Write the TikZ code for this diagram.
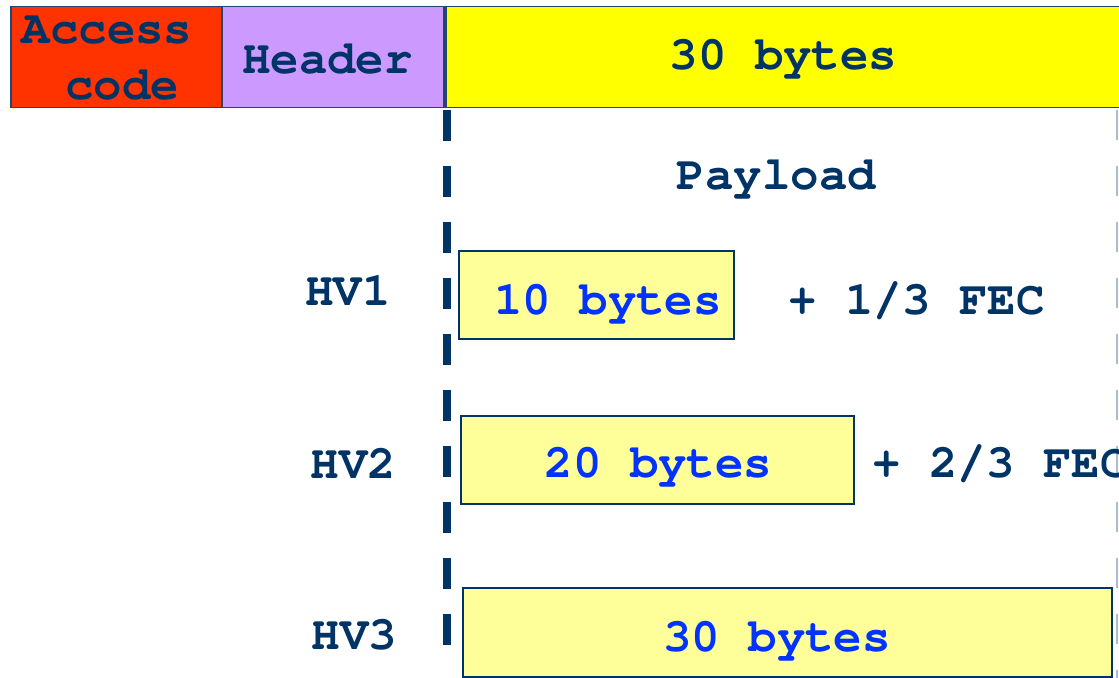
\documentclass[tikz,border=0pt]{standalone}
\usepackage[T1]{fontenc}
\definecolor{navy}{HTML}{003366}
\definecolor{edge}{HTML}{24466E}
\definecolor{accred}{HTML}{FF3300}
\definecolor{hdrlil}{HTML}{CC99FF}
\definecolor{ylw}{HTML}{FFFF00}
\definecolor{lylw}{HTML}{FFFF99}
\definecolor{blu}{HTML}{0033FF}
\definecolor{faint}{HTML}{A9BCD3}
\tikzset{
  fld/.style={draw=edge, line width=0.75pt, inner sep=0pt, anchor=north west},
  pbox/.style={draw=navy, fill=lylw, line width=1pt, inner sep=0pt, anchor=north west},
  txt/.style={font=\fontfamily{pcr}\bfseries\fontsize{23.7}{28}\selectfont, text=navy, inner sep=0pt, anchor=base},
  btxt/.style={txt, text=blu},
  sep/.style={draw=navy, line width=4pt, dash pattern=on 15.5pt off 12.5pt},
  rsep/.style={draw=faint, line width=1pt, dash pattern=on 15pt off 13pt},
}
\begin{document}
\begin{tikzpicture}[x=0.5pt,y=-0.5pt]
\useasboundingbox (0,0) rectangle (1119,678);
\clip (0,0) rectangle (1119,678);
% top fields
\node[fld, fill=accred, minimum width=211*0.5pt, minimum height=101*0.5pt] (acc) at (10,6) {};
\node[fld, fill=hdrlil, minimum width=222*0.5pt, minimum height=101*0.5pt] (hdr) at (221,6) {};
\node[fld, fill=ylw, minimum width=700*0.5pt, minimum height=101*0.5pt] (pay) at (445,6) {};
\node[txt] (acct1) at (107,44) {Access};
\node[txt] (acct2) at (122,100) {code};
\node[txt] (hdrt) at (327.5,74) {Header};
\node[txt] (payt) at (783.5,70) {30 bytes};
% separators
\coordinate (s1) at (447,110);
\coordinate (s2) at (447,660);
\draw[sep] (s1) -- (s2);
\coordinate (r1) at (1117,110);
\coordinate (r2) at (1117,678);
\draw[rsep] (r1) -- (r2);
% payload label
\node[txt] (plabel) at (776.5,190) {Payload};
% HV rows
\node[txt] (hv1) at (348,306) {HV1};
\node[txt] (hv2) at (353.5,479) {HV2};
\node[txt] (hv3) at (354.5,649) {HV3};
\node[pbox, minimum width=275*0.5pt, minimum height=88*0.5pt] (b1) at (458,250) {};
\node[pbox, minimum width=393*0.5pt, minimum height=88*0.5pt] (b2) at (460,415) {};
\node[pbox, minimum width=649*0.5pt, minimum height=89*0.5pt] (b3) at (462,587) {};
\node[btxt] (b1t) at (608,315) {10 bytes};
\node[btxt] (b2t) at (658.5,478) {20 bytes};
\node[btxt] (b3t) at (777,651) {30 bytes};
\node[txt] (f1) at (916.5,315) {+ 1/3 FEC};
\node[txt] (f2) at (1000.5,478) {+ 2/3 FEC};
\end{tikzpicture}
\end{document}
